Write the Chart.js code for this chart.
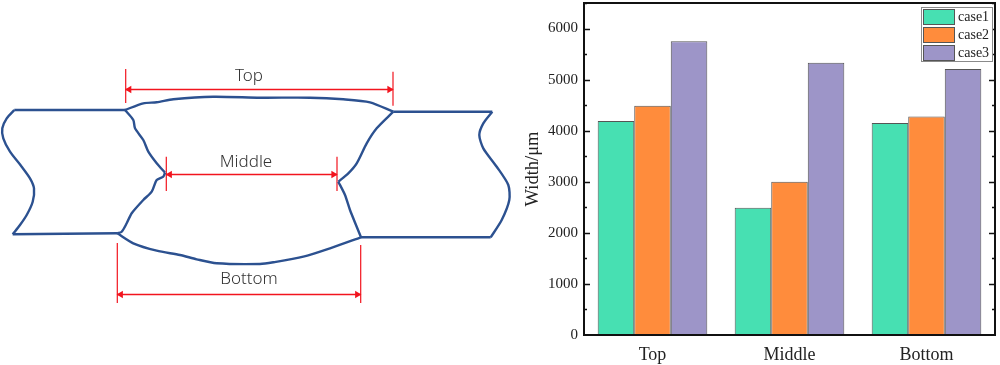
<!DOCTYPE html>
<html>
<head>
<meta charset="utf-8">
<title>Weld width</title>
<script src="https://cdn.jsdelivr.net/npm/chart.js@4"></script>
<style>
  html, body { margin:0; padding:0; background:#fff; overflow:hidden; }
  canvas { position:absolute; top:0; }
  #sketch { left:0; }
  #bars { left:520px; }
</style>
</head>
<body>
<canvas id="sketch" width="515" height="365"></canvas>
<canvas id="bars" width="480" height="365"></canvas>
<script>
// Bar chart data
const categories = ['Top', 'Middle', 'Bottom'];
const case1 = [4190, 2490, 4150];
const case2 = [4490, 3000, 4280];
const case3 = [5750, 5330, 5210];
const seriesNames = ['case1', 'case2', 'case3'];
const seriesColors = ['#47e0b2', '#ff8c3c', '#9d95c8'];
const tickStep = 500;
const yMax = 6500;

// Weld cross-section outline, in picture units
const leftTopEdge = [[125,110],[14.3,110]];
const leftEnd = [[14.3,110],[6.7,118.3],[2.3,128.3],[3.3,138.3],[10,151.7],[21.7,166.7],[30,178.3],[34,188.3],[32.7,201.7],[26.7,215],[20,225],[12.7,234.3]];
const leftBottomEdge = [[12.7,234.3],[117.3,233.3]];
const weldLeftUpper = [[125,110],[133.3,120],[135,128.3],[143.3,140],[148.3,151.7],[156.7,163.3],[165,172.7]];
const weldLeftLower = [[165,172.7],[163.3,176.7],[156.7,180],[151.7,191.7],[143.3,200],[131.7,213.3],[126.7,223.3],[121.7,231.7],[117.3,233.3]];
const topCurve = [[125,110],[143.3,103.3],[156.7,102.3],[173.3,99.3],[213.3,96.7],[260,97.7],[310,97.7],[343.3,99.3],[370,102.3],[393.3,111.7]];
const rightTopEdge = [[393.3,111.7],[492.3,111.7]];
const rightEnd = [[492.3,111.7],[483.3,123.3],[479.3,135],[483.3,148.3],[496.7,166.7],[508.3,185],[509.3,200],[501.7,220],[490.7,237.3]];
const rightBottomEdge = [[490.7,237.3],[361,237.3]];
const weldRightUpper = [[393.3,111.7],[376.7,128.3],[366.7,143.3],[356.7,163.3],[348.3,173.3],[338.3,181.7]];
const weldRightLower = [[338.3,181.7],[345,195],[350,210],[356.7,226.7],[361,237.3]];
const bottomCurve = [[117.3,233.3],[133.3,243.3],[156.7,250.7],[180,255],[196.7,259.3],[216.7,263.3],[260,264],[273.3,262.3],[303.3,256.7],[330,248.3],[361,237.3]];
const outlineParts = [leftTopEdge, leftEnd, leftBottomEdge, weldLeftUpper, weldLeftLower, topCurve, rightTopEdge, rightEnd, rightBottomEdge, weldRightUpper, weldRightLower, bottomCurve];

// Dimension lines: x ends, y of the arrow, y range of each end mark
const dimLabels = ['Top', 'Middle', 'Bottom'];
const dimX = [[125.7,393],[166.3,337],[117.3,360.7]];
const dimY = [89.5,174.5,294.5];
const dimMarksLeft = [[69,103],[156.7,191],[243,303]];
const dimMarksRight = [[71.7,105.7],[156.7,191],[245,303]];
const dimLabelX = [249,246,249];
const dimLabelY = [76,162,279];

const toPts = arr => arr.map(p => ({x:p[0], y:p[1]}));
const BLUE = '#2c5190', RED = '#f2141e';

const sketchSets = [];
outlineParts.forEach(line=>{
  sketchSets.push({ data:toPts(line), showLine:true, borderColor:BLUE, borderWidth:2.4, pointRadius:0, tension:0.25 });
});
dimX.forEach((xs,i)=>{
  const y = dimY[i];
  sketchSets.push({ data:[{x:xs[0],y},{x:xs[1],y}], showLine:true, borderColor:RED, borderWidth:1.4, pointRadius:0 });
  sketchSets.push({ data:[{x:xs[0],y:dimMarksLeft[i][0]},{x:xs[0],y:dimMarksLeft[i][1]}], showLine:true, borderColor:RED, borderWidth:1.2, pointRadius:0 });
  sketchSets.push({ data:[{x:xs[1],y:dimMarksRight[i][0]},{x:xs[1],y:dimMarksRight[i][1]}], showLine:true, borderColor:RED, borderWidth:1.2, pointRadius:0 });
  sketchSets.push({ data:[{x:xs[0]+3.5,y}], pointStyle:'triangle', pointRotation:-90, pointRadius:4.2, backgroundColor:RED, borderWidth:0 });
  sketchSets.push({ data:[{x:xs[1]-3.5,y}], pointStyle:'triangle', pointRotation:90, pointRadius:4.2, backgroundColor:RED, borderWidth:0 });
});

const dimText = {
  id:'dimText',
  afterDatasetsDraw(chart){
    const { ctx, scales:{x,y} } = chart;
    ctx.save();
    ctx.font = '300 17px "Noto Sans"';
    ctx.fillStyle = '#333';
    ctx.textAlign = 'center';
    ctx.textBaseline = 'middle';
    dimLabels.forEach((t,i)=>{
      ctx.fillText(t, x.getPixelForValue(dimLabelX[i]), y.getPixelForValue(dimLabelY[i]));
    });
    ctx.restore();
  }
};

new Chart(document.getElementById('sketch'), {
  type:'scatter',
  data:{ datasets:sketchSets },
  plugins:[dimText],
  options:{
    responsive:false, animation:false,
    layout:{ autoPadding:false },
    plugins:{ legend:{display:false}, tooltip:{enabled:false} },
    scales:{
      x:{ display:false, min:0, max:515 },
      y:{ display:false, min:0, max:365, reverse:true }
    }
  }
});

// Inward ticks, frame and the legend inside the plot
const frameAndLegend = {
  id:'frameAndLegend',
  afterDatasetsDraw(chart){
    const { ctx, chartArea:a, scales:{y} } = chart;
    ctx.save();
    ctx.strokeStyle = '#111';
    ctx.lineWidth = 1.4;
    y.ticks.forEach(t=>{
      if(t.value === 0) return;
      const py = Math.round(y.getPixelForValue(t.value)) + 0.5;
      const len = t.value % 1000 === 0 ? 6 : 3;
      ctx.beginPath();
      ctx.moveTo(a.left, py); ctx.lineTo(a.left + len, py);
      ctx.moveTo(a.right, py); ctx.lineTo(a.right - len, py);
      ctx.stroke();
    });
    ctx.lineWidth = 2;
    ctx.strokeRect(a.left, a.top, a.right - a.left, a.bottom - a.top);

    // legend box
    const lx = 401, ly = 7, lw = 72, lh = 55;
    ctx.fillStyle = '#fff';
    ctx.fillRect(lx, ly, lw, lh);
    ctx.strokeStyle = '#8a8a8a';
    ctx.lineWidth = 1;
    ctx.strokeRect(lx + 0.5, ly + 0.5, lw - 1, lh - 1);
    ctx.font = '14px "Liberation Serif"';
    ctx.textBaseline = 'middle';
    chart.data.datasets.forEach((d,i)=>{
      const sy = ly + 2.5 + i * 18;
      ctx.fillStyle = d.backgroundColor;
      ctx.fillRect(lx + 2.5, sy, 31, 15);
      ctx.strokeStyle = '#555';
      ctx.strokeRect(lx + 2.5, sy, 31, 15);
      ctx.fillStyle = '#222';
      ctx.fillText(d.label, lx + 37, sy + 8);
    });
    ctx.restore();
  }
};

new Chart(document.getElementById('bars'), {
  type:'bar',
  data:{
    labels:categories,
    datasets:[case1, case2, case3].map((vals,i)=>({
      label:seriesNames[i],
      data:vals,
      backgroundColor:seriesColors[i],
      borderColor:'#555',
      borderWidth:1,
      categoryPercentage:0.8,
      barPercentage:1
    }))
  },
  plugins:[frameAndLegend],
  options:{
    responsive:false, animation:false,
    layout:{ autoPadding:false, padding:{ top:3, right:5, bottom:0, left:0 } },
    plugins:{ legend:{display:false}, tooltip:{enabled:false} },
    scales:{
      x:{
        grid:{ display:false, drawTicks:false },
        border:{ display:false },
        ticks:{ color:'#222', font:{ family:'"Liberation Serif"', size:18 }, padding:9 },
        afterFit(s){ s.height = 30; s.paddingLeft = 0; s.paddingRight = 0; }
      },
      y:{
        min:0, max:yMax,
        grid:{ display:false, drawTicks:false },
        border:{ display:false },
        ticks:{
          stepSize:tickStep,
          autoSkip:false,
          color:'#222',
          font:{ family:'"Liberation Serif"', size:15 },
          padding:6,
          callback:v => v % 1000 === 0 ? String(v) : ''
        },
        title:{ display:true, text:'Width/μm', color:'#222', font:{ family:'"Liberation Serif"', size:18.5 }, padding:{top:2,bottom:0} },
        // no half-label padding, the plot runs up to the top of the picture
        afterFit(s){ s.width = 64; s.paddingTop = 0; s.paddingBottom = 0; }
      }
    }
  }
});
</script>
</body>
</html>
